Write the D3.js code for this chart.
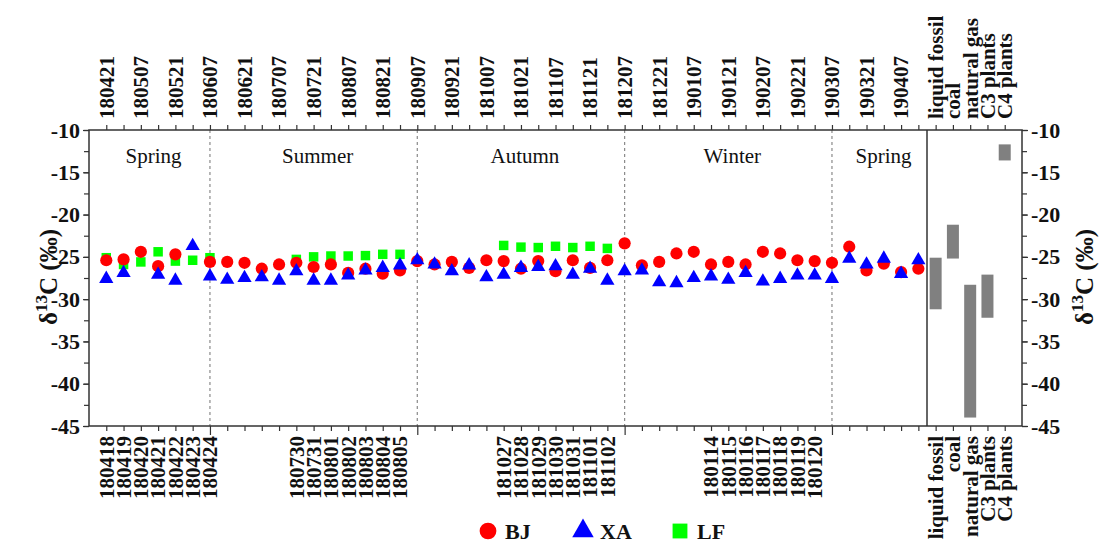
<!DOCTYPE html>
<html>
<head>
<meta charset="utf-8">
<script src="https://cdn.jsdelivr.net/npm/d3@7"></script>
<style>
  body { margin: 0; background: #fff; }
  svg text { font-family: "Liberation Serif", "Times New Roman", serif; }
</style>
</head>
<body>
<svg id="chart" width="1101" height="551"></svg>
<script>
// sample index 0..47 along the main panel
let topLabels = ["180421","180507","180521","180607","180621","180707","180721","180807","180821","180907",
  "180921","181007","181021","181107","181121","181207","181221","190107","190121","190207",
  "190221","190307","190321","190407"];

// bottom sample labels, keyed by index
let sampleIdx = [0,1,2,3,4,5,6, 11,12,13,14,15,16,17, 23,24,25,26,27,28,29, 35,36,37,38,39,40,41];
let sampleLabels = ["180418","180419","180420","180421","180422","180423","180424",
  "180730","180731","180801","180802","180803","180804","180805",
  "181027","181028","181029","181030","181031","181101","181102",
  "180114","180115","180116","180117","180118","180119","180120"];

let bj = [-25.4,-25.3,-24.4,-26.1,-24.7,null,-25.6,-25.6,-25.7,-26.4,-25.9,-25.7,-26.2,-25.9,-26.9,-26.4,
  -27.0,-26.6,-25.5,-25.9,-25.6,-26.3,-25.4,-25.5,-26.4,-25.5,-26.7,-25.4,-26.3,-25.4,-23.4,-26.0,
  -25.6,-24.6,-24.4,-25.9,-25.6,-25.9,-24.4,-24.6,-25.4,-25.5,-25.7,-23.8,-26.6,-25.8,-26.8,-26.4];
let xa = [-27.6,-26.9,null,-27.1,-27.8,-23.7,-27.3,-27.7,-27.5,-27.4,-27.8,-26.7,-27.8,-27.8,-27.2,-26.6,
  -26.3,-26.0,-25.4,-25.9,-26.7,-26.0,-27.4,-27.1,-26.3,-26.2,-26.1,-27.1,-26.4,-27.8,-26.7,-26.6,
  -28.0,-28.1,-27.5,-27.3,-27.7,-26.9,-27.9,-27.6,-27.2,-27.2,-27.6,-25.2,-25.9,-25.2,-27.0,-25.4];
let lf = [-25.1,-25.9,-25.6,-24.4,-25.5,-25.4,-25.1,null,null,null,null,-25.3,-25.0,-24.9,-24.9,-24.85,
  -24.7,-24.7,null,null,null,null,null,-23.65,-23.85,-23.9,-23.75,-23.9,-23.75,-24.0,null,null,
  null,null,null,null,null,null,null,null,null,null,null,null,null,null,null,null];

let seasonNames = ["Spring","Summer","Autumn","Winter","Spring"];
let seasonBounds = [-1, 6, 18, 30, 42, 47.5];

let sources = ["liquid fossil","coal","natural gas","C3 plants","C4 plants"];
let srcLow = [-31.2,-25.2,-44,-32.2,-13.6];
let srcHigh = [-25.1,-21.2,-28.3,-27.1,-11.7];

let yTicks = [-10,-15,-20,-25,-30,-35,-40,-45];

const svg = d3.select("#chart");
const L = 89, R = 1022, SPLIT = 927, T = 130, B = 426;
const FONT = 21;

let x = d3.scaleLinear().domain([-1, 47.5]).range([L, SPLIT]);
let x2 = d3.scaleLinear().domain([-0.5, 5]).range([SPLIT, R]);
let y = d3.scaleLinear().domain([-45, -10]).range([B, T]);

// dashed season dividers
svg.selectAll(".sep").data(seasonBounds.slice(1, -1)).enter().append("line")
  .attr("x1", d => x(d)).attr("x2", d => x(d)).attr("y1", T).attr("y2", B)
  .attr("stroke", "#8a8a8a").attr("stroke-width", 1.2).attr("stroke-dasharray", "3,3");

// season names
svg.selectAll(".season").data(seasonNames).enter().append("text")
  .attr("x", (d, i) => (x(seasonBounds[i]) + x(seasonBounds[i + 1])) / 2 + 4)
  .attr("y", 163).attr("text-anchor", "middle")
  .attr("font-size", 21).attr("fill", "#111").text(d => d);

// source bars
svg.selectAll(".src").data(sources).enter().append("rect")
  .attr("x", (d, i) => x2(i) - 6).attr("width", 12)
  .attr("y", (d, i) => y(srcHigh[i])).attr("height", (d, i) => y(srcLow[i]) - y(srcHigh[i]))
  .attr("fill", "#808080");

// markers (LF under BJ under XA)
const lfPts = lf.map((v, i) => [i, v]).filter(d => d[1] != null);
const bjPts = bj.map((v, i) => [i, v]).filter(d => d[1] != null);
const xaPts = xa.map((v, i) => [i, v]).filter(d => d[1] != null);

svg.selectAll(".lf").data(lfPts).enter().append("path")
  .attr("transform", d => `translate(${x(d[0])},${y(d[1])})`)
  .attr("d", d3.symbol().type(d3.symbolSquare).size(90)).attr("fill", "#00ff00");
svg.selectAll(".bj").data(bjPts).enter().append("circle")
  .attr("cx", d => x(d[0])).attr("cy", d => y(d[1])).attr("r", 6.1).attr("fill", "#ff0000");
svg.selectAll(".xa").data(xaPts).enter().append("path")
  .attr("transform", d => `translate(${x(d[0])},${y(d[1])})`)
  .attr("d", d3.symbol().type(d3.symbolTriangle).size(88)).attr("fill", "#0000ff");

// frame
const axisColor = "#333";
svg.append("rect").attr("x", L).attr("y", T).attr("width", R - L).attr("height", B - T)
  .attr("fill", "none").attr("stroke", axisColor).attr("stroke-width", 1.5);
svg.append("line").attr("x1", SPLIT).attr("x2", SPLIT).attr("y1", T).attr("y2", B)
  .attr("stroke", axisColor).attr("stroke-width", 1.5);

// y axes
let yMinor = d3.range(-45, -9, 2.5);
function yAxis(side) {
  let g = svg.append("g").attr("transform", `translate(${side === "left" ? L : R},0)`);
  let ax = (side === "left" ? d3.axisLeft(y) : d3.axisRight(y));
  g.call(ax.tickValues(yMinor).tickSize(5).tickFormat(""));
  let g2 = svg.append("g").attr("transform", `translate(${side === "left" ? L : R},0)`);
  let ax2 = (side === "left" ? d3.axisLeft(y) : d3.axisRight(y));
  g2.call(ax2.tickValues(yTicks).tickSize(6).tickPadding(3).tickFormat(d3.format("d")));
  [g, g2].forEach(gg => {
    gg.select(".domain").remove();
    gg.selectAll("line").attr("stroke", axisColor).attr("stroke-width", 1.2);
  });
  g2.selectAll("text").attr("font-size", FONT + 1).attr("font-weight", "bold").attr("fill", "#111")
    .text(d => "-" + Math.abs(d));
}
yAxis("left");
yAxis("right");

// x ticks main panel
let idx = d3.range(0, 48);
let bottomAx = svg.append("g").attr("transform", `translate(0,${B})`)
  .call(d3.axisBottom(x).tickValues(idx).tickSize(5).tickFormat(""));
let topAx = svg.append("g").attr("transform", `translate(0,${T})`)
  .call(d3.axisTop(x).tickValues(idx).tickSize(5).tickFormat(""));
let bottomAx2 = svg.append("g").attr("transform", `translate(0,${B})`)
  .call(d3.axisBottom(x2).tickValues(d3.range(0, 5)).tickSize(5).tickFormat(""));
let topAx2 = svg.append("g").attr("transform", `translate(0,${T})`)
  .call(d3.axisTop(x2).tickValues(d3.range(0, 5)).tickSize(5).tickFormat(""));
[bottomAx, topAx, bottomAx2, topAx2].forEach(g => {
  g.select(".domain").remove();
  g.selectAll("line").attr("stroke", axisColor).attr("stroke-width", 1.2);
});
bottomAx.selectAll(".tick line").attr("y2", d => seasonBounds.includes(d) ? 9 : 5);

// rotated labels
function vlabel(xpos, ypos, anchor, txt) {
  svg.append("text")
    .attr("transform", `translate(${xpos},${ypos}) rotate(-90)`)
    .attr("dy", "0.35em").attr("text-anchor", anchor)
    .attr("font-size", FONT).attr("font-weight", "bold").attr("fill", "#111")
    .text(txt);
}
topLabels.forEach((t, i) => vlabel(x(i * 2), T - 11, "start", t));
sampleLabels.forEach((t, i) => vlabel(x(sampleIdx[i]), B + 10, "end", t));
sources.forEach((t, i) => {
  vlabel(x2(i), T - 11, "start", t);
  vlabel(x2(i), B + 10, "end", t);
});

// y titles
function ytitle(xpos) {
  let t = svg.append("text")
    .attr("transform", `translate(${xpos},277) rotate(-90)`)
    .attr("text-anchor", "middle").attr("font-size", 25).attr("font-weight", "bold").attr("fill", "#111");
  t.append("tspan").text("δ");
  t.append("tspan").attr("dy", -10).attr("font-size", 17).text("13");
  t.append("tspan").attr("dy", 10).text("C (‰)");
}
ytitle(57);
ytitle(1093);

// legend
let legendKeys = ["BJ", "XA", "LF"];
let legendX = [488, 583, 680];
let legendSym = [d3.symbolCircle, d3.symbolTriangle, d3.symbolSquare];
let legendCol = ["#ff0000", "#0000ff", "#00ff00"];
let legendSize = [220, 200, 220];
let lg = svg.selectAll(".lg").data(legendKeys).enter().append("g")
  .attr("transform", (d, i) => `translate(${legendX[i]},531)`);
lg.append("path").attr("d", (d, i) => d3.symbol().type(legendSym[i]).size(legendSize[i])())
  .attr("fill", (d, i) => legendCol[i]);
lg.append("text").attr("x", 17).attr("dy", "0.35em").attr("font-size", FONT + 1)
  .attr("font-weight", "bold").attr("fill", "#111").text(d => d);
</script>
</body>
</html>
